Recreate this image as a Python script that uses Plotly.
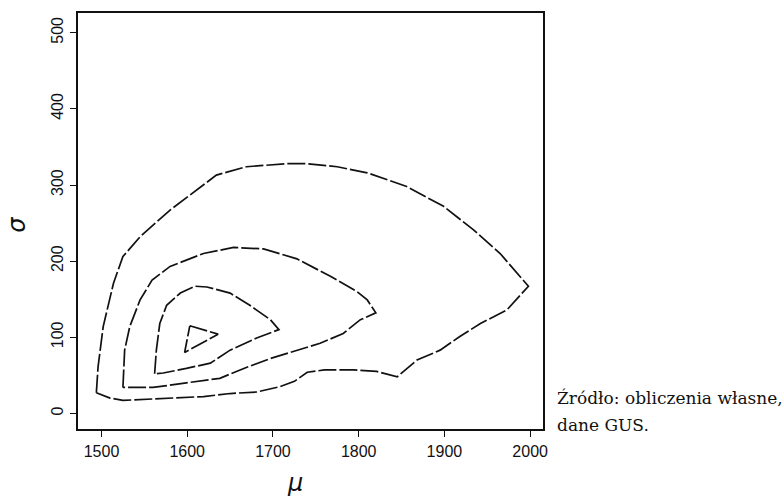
import plotly.graph_objects as go

# Likelihood contour levels in the (mu, sigma) plane, outermost first
mu_level1 = [1494, 1496, 1502, 1514, 1525, 1545, 1580, 1611, 1634, 1669, 1716, 1740,
             1775, 1810, 1856, 1899, 1934, 1965, 1998, 1973, 1942, 1918, 1895, 1868,
             1845, 1821, 1794, 1760, 1740, 1725, 1708, 1681, 1650, 1619, 1580, 1525,
             1510, 1494]
sigma_level1 = [27, 61, 114, 171, 206, 232, 267, 294, 313, 324, 328, 328,
                324, 316, 298, 272, 241, 210, 167, 136, 118, 101, 83, 70,
                48, 55, 57, 57, 54, 42, 35, 28, 26, 22, 20, 17,
                20, 27]

mu_level2 = [1525, 1527, 1533, 1545, 1559, 1580, 1619, 1654, 1689, 1728, 1767, 1798,
             1810, 1820, 1802, 1782, 1755, 1735, 1697, 1666, 1638, 1599, 1560, 1525]
sigma_level2 = [34, 83, 114, 149, 175, 193, 210, 218, 216, 203, 180, 160,
                149, 132, 123, 105, 92, 85, 72, 59, 46, 40, 34, 34]

mu_level3 = [1562, 1564, 1568, 1576, 1592, 1609, 1623, 1650, 1673, 1697, 1707, 1681,
             1650, 1627, 1599, 1572, 1562]
sigma_level3 = [52, 83, 118, 142, 158, 167, 166, 158, 142, 123, 110, 99,
                83, 66, 59, 53, 52]

mu_level4 = [1603, 1636, 1597, 1603]
sigma_level4 = [115, 104, 80, 115]

x_ticks = [1500, 1600, 1700, 1800, 1900, 2000]
y_ticks = [0, 100, 200, 300, 400, 500]

fig = go.Figure()
for mu, sg in [(mu_level1, sigma_level1), (mu_level2, sigma_level2),
               (mu_level3, sigma_level3), (mu_level4, sigma_level4)]:
    fig.add_trace(go.Scatter(
        x=mu, y=sg, mode="lines",
        line=dict(color="#111111", width=1.7, dash="18px,3px"),
        hoverinfo="skip", showlegend=False,
    ))

axis_font = dict(family="Liberation Sans, Arial, sans-serif", size=16, color="#111111")

fig.update_xaxes(
    range=[1472.6, 2015], tickvals=x_ticks, ticktext=[str(v) for v in x_ticks],
    ticks="outside", ticklen=6, tickwidth=1.2, tickcolor="#111111",
    showline=True, linewidth=2, linecolor="#111111", mirror=True,
    showgrid=False, zeroline=False, tickfont=axis_font, ticklabelstandoff=1,
)
fig.update_yaxes(
    range=[-20.6, 526], tickvals=y_ticks, ticktext=[str(v) for v in y_ticks],
    ticks="outside", ticklen=6, tickwidth=1.2, tickcolor="#111111",
    showline=True, linewidth=2, linecolor="#111111", mirror=True,
    showgrid=False, zeroline=False, tickfont=axis_font, tickangle=-90,
    ticklabelstandoff=1,
)

# Axis symbols
fig.add_annotation(
    text="<i>μ</i>", xref="paper", yref="paper", x=0.466, y=-0.13,
    xanchor="center", yanchor="middle", showarrow=False,
    font=dict(family="DejaVu Sans, sans-serif", size=24, color="#111111"),
)
fig.add_annotation(
    text="<i>σ</i>", xref="paper", yref="paper", x=-0.13, y=0.49,
    xanchor="center", yanchor="middle", showarrow=False, textangle=-90,
    font=dict(family="DejaVu Sans, sans-serif", size=24, color="#111111"),
)

# Source note
src_font = dict(family="DejaVu Serif, Liberation Serif, serif", size=17, color="#111111")
fig.add_annotation(
    text="Źródło: obliczenia własne,", xref="paper", yref="paper",
    x=1.026, y=0.0745, xanchor="left", yanchor="middle", showarrow=False, font=src_font,
)
fig.add_annotation(
    text="dane GUS.", xref="paper", yref="paper",
    x=1.026, y=0.0096, xanchor="left", yanchor="middle", showarrow=False, font=src_font,
)

fig.update_layout(
    width=784, height=496,
    margin=dict(l=78, r=241, t=13, b=67),
    paper_bgcolor="white", plot_bgcolor="white",
)

fig.write_html("out.html")
